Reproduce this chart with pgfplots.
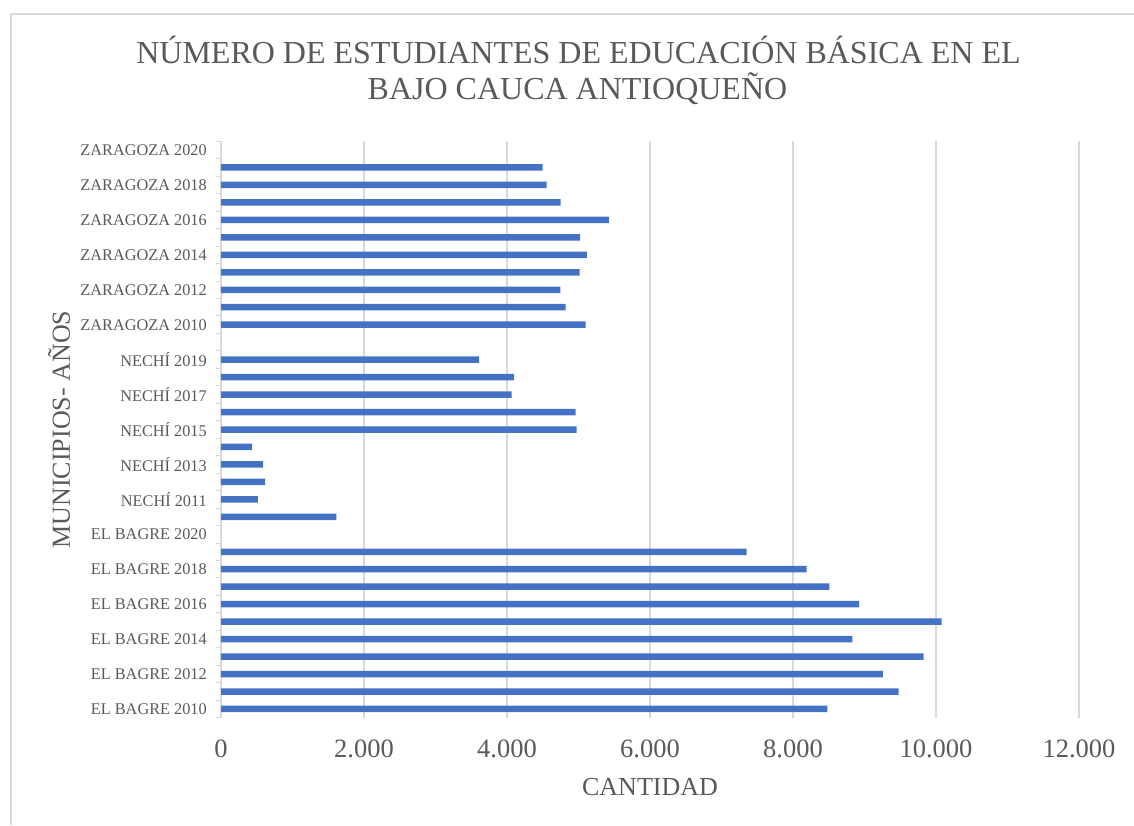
\documentclass[border=0pt]{standalone}
\usepackage{pgfplots}
\pgfplotsset{compat=1.18}
\usepackage{fontspec}
\setmainfont{Liberation Serif}
\definecolor{barblue}{HTML}{4472C4}
\definecolor{txt}{HTML}{595959}
\definecolor{gridc}{HTML}{D9D9D9}
\begin{document}
\begin{tikzpicture}
\useasboundingbox (0pt,0pt) rectangle (1134pt,825pt);
\draw[gridc, line width=1.5pt] (11pt,0pt) -- (11pt,811pt) -- (1134pt,811pt);
\begin{axis}[
  at={(221pt,107.3pt)}, anchor=south west,
  scale only axis, width=858pt, height=576.4pt,
  xbar, bar width=6.5pt,
  xmin=0, xmax=12000, ymin=-0.5, ymax=32.5,
  axis y line*=left, axis x line*=bottom,
  x axis line style={draw=none},
  y axis line style={-, draw=gridc, line width=1pt},
  xtick={0,2000,4000,6000,8000,10000,12000},
  scaled x ticks=false,
  /pgf/number format/1000 sep={.},
  /pgf/number format/assume math mode=true,
  ytick={0,2,...,32},
  yticklabels={{EL BAGRE 2010},{EL BAGRE 2012},{EL BAGRE 2014},{EL BAGRE 2016},{EL BAGRE 2018},{EL BAGRE 2020},{NECHÍ 2011},{NECHÍ 2013},{NECHÍ 2015},{NECHÍ 2017},{NECHÍ 2019},{ZARAGOZA 2010},{ZARAGOZA 2012},{ZARAGOZA 2014},{ZARAGOZA 2016},{ZARAGOZA 2018},{ZARAGOZA 2020}},
  minor ytick={-0.5,0.5,...,32.5},
  tick align=outside,
  major tick length=0pt, minor tick length=5pt,
  minor tick style={draw=gridc, line width=1pt},
  xmajorgrids,
  major x grid style={draw=gridc, line width=1.5pt},
  xticklabel style={font=\fontsize{26.5}{30}\selectfont, text=txt, inner sep=0pt, yshift=-22pt},
  yticklabel style={font=\fontsize{16.3}{19}\selectfont, text=txt, inner sep=0pt, xshift=-14pt},
  xlabel={CANTIDAD},
  xlabel style={at={(axis description cs:0.5,0)}, anchor=north, inner sep=0pt, yshift=-60pt, font=\fontsize{26}{30}\selectfont, text=txt},
  ylabel={MUNICIPIOS- AÑOS},
  ylabel style={at={(axis description cs:-0.176,0.5)}, anchor=base, inner sep=0pt, font=\fontsize{26}{30}\selectfont, text=txt},
]
\addplot[fill=barblue, draw=none] coordinates {
 (8482,0) (9477,1) (9258,2) (9826,3) (8831,4) (10077,5) (8924,6) (8510,7) (8189,8) (7351,9)
 (1615,11) (516,12) (618,13) (590,14) (437,15) (4973,16) (4959,17) (4066,18) (4099,19) (3611,20)
 (5099,22) (4820,23) (4745,24) (5015,25) (5118,26) (5024,27) (5425,28) (4750,29) (4554,30) (4498,31)
};
\end{axis}
\node[anchor=base, inner sep=0pt, font=\fontsize{32}{38}\selectfont, text=txt] at (578.5pt,761.7pt) {NÚMERO DE ESTUDIANTES DE EDUCACIÓN BÁSICA EN EL};
\node[anchor=base, inner sep=0pt, font=\fontsize{32}{38}\selectfont, text=txt] at (577.5pt,725pt) {BAJO CAUCA ANTIOQUEÑO};
\end{tikzpicture}
\end{document}
